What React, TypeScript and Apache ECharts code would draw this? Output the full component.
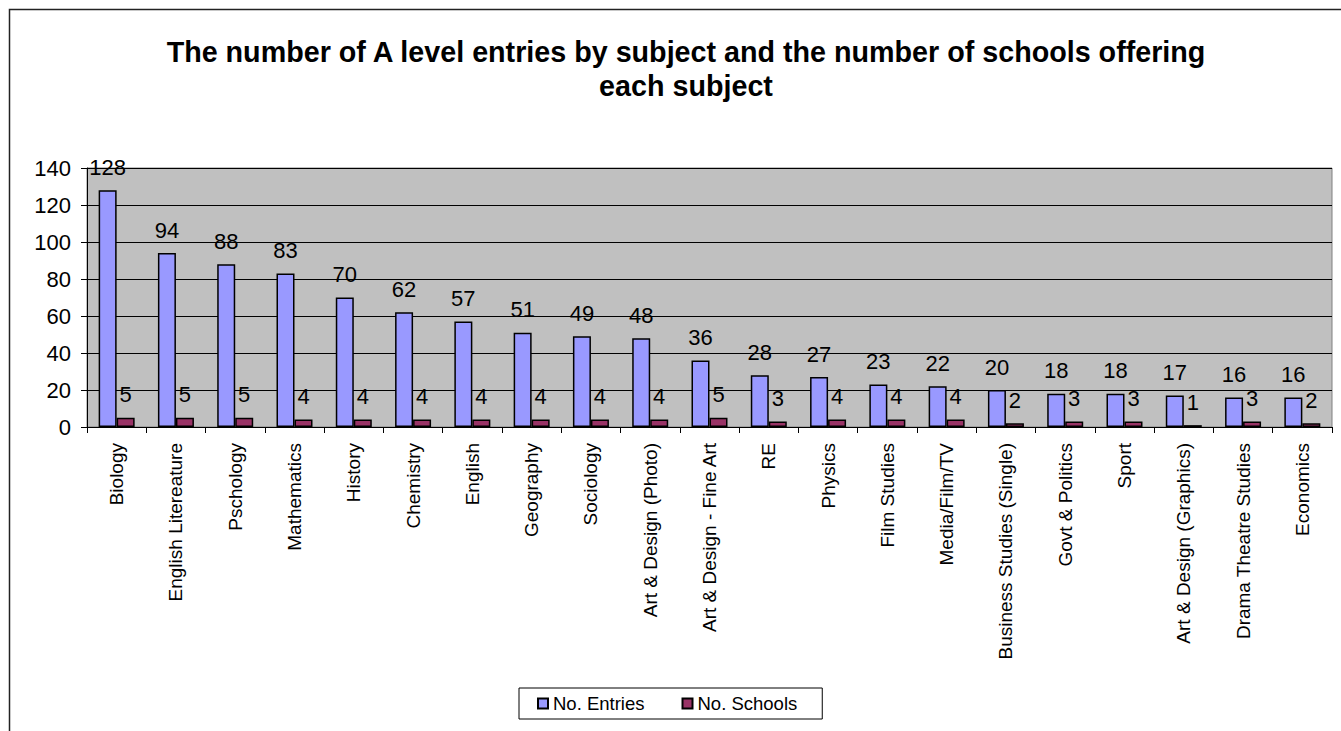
import React, { useEffect, useRef } from "react";
import * as echarts from "echarts";

const categories = [
  "Biology",
  "English Litereature",
  "Pschology",
  "Mathematics",
  "History",
  "Chemistry",
  "English",
  "Geography",
  "Sociology",
  "Art & Design (Photo)",
  "Art & Design - Fine Art",
  "RE",
  "Physics",
  "Film Studies",
  "Media/Film/TV",
  "Business Studies (Single)",
  "Govt & Politics",
  "Sport",
  "Art & Design (Graphics)",
  "Drama Theatre Studies",
  "Economics",
];
const entries = [128, 94, 88, 83, 70, 62, 57, 51, 49, 48, 36, 28, 27, 23, 22, 20, 18, 18, 17, 16, 16];
const schools = [5, 5, 5, 4, 4, 4, 4, 4, 4, 4, 5, 3, 4, 4, 4, 2, 3, 3, 1, 3, 2];
const yTicks = { min: 0, max: 140, interval: 20 };

const FONT = "'Liberation Sans', Arial, sans-serif";

export default function App() {
  const ref = useRef<HTMLDivElement>(null);
  useEffect(() => {
    if (!ref.current) return;
    const chart = echarts.init(ref.current, null, { renderer: "svg" });
    const label = {
      show: true,
      position: "top",
      distance: 12,
      fontSize: 22,
      color: "#000",
      fontFamily: FONT,
    };
    chart.setOption({
      animation: false,
      backgroundColor: "#fff",
      textStyle: { fontFamily: FONT },
      graphic: [
        {
          type: "rect",
          shape: { x: 9.5, y: 9.5, width: 1340, height: 780 },
          style: { fill: "none", stroke: "#222", lineWidth: 1.5 },
          silent: true,
        },
        {
          type: "text",
          x: 686,
          y: 35,
          style: {
            text: "The number of A level entries by subject and the number of schools offering\neach subject",
            font: `bold 28.7px ${FONT}`,
            textAlign: "center",
            textVerticalAlign: "top",
            lineHeight: 34,
            fill: "#000",
          },
        },
      ],
      legend: {
        left: 519,
        top: 688,
        padding: [6, 25, 6, 18],
        itemGap: 37,
        itemWidth: 10,
        itemHeight: 10,
        icon: "rect",
        borderColor: "#000",
        borderWidth: 1,
        backgroundColor: "#fff",
        textStyle: { fontSize: 18.5, color: "#000", fontFamily: FONT },
        data: ["No. Entries", "No. Schools"],
      },
      grid: {
        left: 87,
        right: 9,
        top: 168,
        bottom: 304,
        show: true,
        backgroundColor: "#C0C0C0",
        borderColor: "#808080",
        borderWidth: 1,
      },
      xAxis: {
        type: "category",
        data: categories,
        axisLine: { lineStyle: { color: "#000", width: 1 } },
        axisTick: { show: true, length: 6, lineStyle: { color: "#000" } },
        axisLabel: {
          interval: 0,
          rotate: 90,
          fontSize: 19,
          color: "#000",
          margin: 16,
          fontFamily: FONT,
        },
      },
      yAxis: {
        type: "value",
        min: yTicks.min,
        max: yTicks.max,
        interval: yTicks.interval,
        axisLine: { show: true, lineStyle: { color: "#000", width: 1 } },
        axisTick: { show: true, length: 6, lineStyle: { color: "#000" } },
        axisLabel: { fontSize: 22, color: "#000", margin: 16, fontFamily: FONT },
        splitLine: { lineStyle: { color: "#000", width: 1 } },
      },
      series: [
        {
          name: "No. Entries",
          type: "bar",
          data: entries,
          barWidth: 18,
          barGap: "0%",
          itemStyle: { color: "#9999FF", borderColor: "#000", borderWidth: 1.5 },
          label,
        },
        {
          name: "No. Schools",
          type: "bar",
          data: schools,
          barWidth: 18,
          barGap: "0%",
          itemStyle: { color: "#993366", borderColor: "#000", borderWidth: 1.5 },
          label,
        },
      ],
    });
    return () => chart.dispose();
  }, []);
  return (
    <div
      ref={ref}
      style={{ position: "fixed", left: 0, top: 0, width: 1341, height: 731, background: "#fff" }}
    />
  );
}
